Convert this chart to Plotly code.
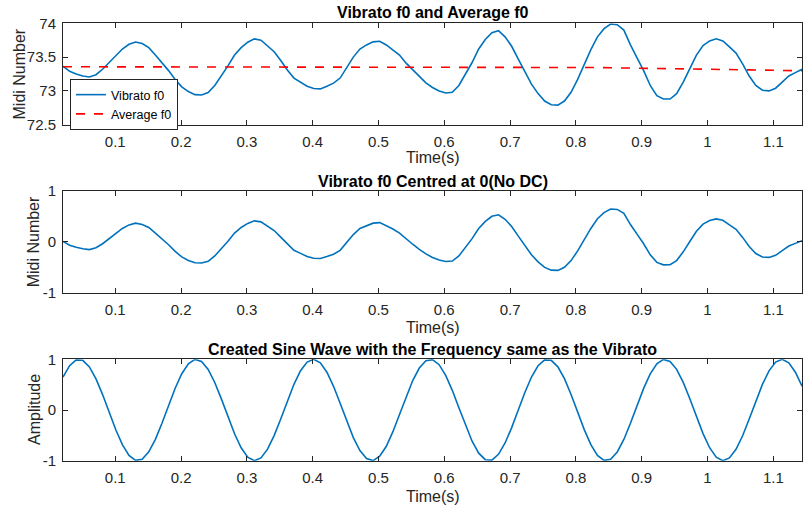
import numpy as np
import plotly.graph_objects as go

# ---------------- data ----------------
T_START, T_END, N_SAMPLES = 0.0206, 1.1436, 113
time_s = np.linspace(T_START, T_END, N_SAMPLES)

vibrato_f0 = [
    73.366, 73.29, 73.25, 73.22, 73.205, 73.24, 73.32, 73.42, 73.53, 73.62,
    73.69, 73.724, 73.70, 73.64, 73.53, 73.42, 73.30, 73.17, 73.06, 72.99,
    72.945, 72.94, 72.975, 73.08, 73.22, 73.37, 73.53, 73.64, 73.72, 73.77,
    73.75, 73.67, 73.58, 73.45, 73.31, 73.19, 73.13, 73.07, 73.035, 73.03,
    73.07, 73.115, 73.19, 73.34, 73.50, 73.62, 73.68, 73.725, 73.735, 73.68,
    73.61, 73.53, 73.41, 73.31, 73.21, 73.12, 73.05, 73.00, 72.97, 72.98,
    73.08, 73.25, 73.42, 73.62, 73.76, 73.86, 73.89, 73.80, 73.66, 73.47,
    73.28, 73.10, 72.96, 72.85, 72.795, 72.79, 72.85, 72.98, 73.17, 73.39,
    73.61, 73.80, 73.92, 73.99, 73.98, 73.90, 73.68, 73.49, 73.30, 73.08,
    72.93, 72.88, 72.88, 72.96, 73.13, 73.33, 73.53, 73.67, 73.74, 73.77,
    73.74, 73.65, 73.56, 73.40, 73.22, 73.08, 73.01, 73.00, 73.04, 73.13,
    73.22, 73.27, 73.32,
]

average_f0 = [73.357] * 70 + [
    73.356, 73.355, 73.354, 73.353, 73.352, 73.351, 73.350, 73.349, 73.348,
    73.347, 73.346, 73.345, 73.344, 73.343, 73.342, 73.341, 73.340, 73.339,
    73.338, 73.336, 73.334, 73.332, 73.330, 73.328, 73.326, 73.324, 73.322,
    73.321, 73.320, 73.318, 73.317, 73.315, 73.314, 73.312, 73.311, 73.309,
    73.308, 73.306, 73.305, 73.303, 73.302, 73.300, 73.298,
]

sine_wave = [
    0.651, 0.874, 0.988, 0.980, 0.850, 0.615, 0.304, -0.046, -0.389, -0.684,
    -0.894, -0.994, -0.970, -0.826, -0.580, -0.261, 0.089, 0.429, 0.716, 0.913,
    0.998, 0.959, 0.801, 0.543, 0.219, -0.133, -0.468, -0.746, -0.930, -1.000,
    -0.945, -0.773, -0.506, -0.176, 0.177, 0.507, 0.774, 0.946, 1.000, 0.930,
    0.745, 0.467, 0.132, -0.220, -0.544, -0.801, -0.959, -0.998, -0.913, -0.715,
    -0.428, -0.088, 0.262, 0.581, 0.827, 0.971, 0.994, 0.894, 0.683, 0.388,
    0.044, -0.305, -0.616, -0.851, -0.980, -0.988, -0.874, -0.651, -0.347, -0.001,
    0.346, 0.650, 0.873, 0.988, 0.980, 0.851, 0.617, 0.306, -0.043, -0.387,
    -0.684, -0.894, -0.994, -0.971, -0.827, -0.581, -0.263, 0.087, 0.427, 0.714,
    0.912, 0.998, 0.959, 0.802, 0.545, 0.221, -0.131, -0.466, -0.744, -0.930,
    -1.000, -0.946, -0.775, -0.508, -0.178, 0.175, 0.505, 0.773, 0.945, 1.000,
    0.931, 0.746, 0.469,
]

# centred vibrato = f0 minus its average
centred_f0 = (np.array(vibrato_f0) - np.array(average_f0)).tolist()

x_tick_vals = [0.1, 0.2, 0.3, 0.4, 0.5, 0.6, 0.7, 0.8, 0.9, 1.0, 1.1]
x_tick_text = ["0.1", "0.2", "0.3", "0.4", "0.5", "0.6", "0.7", "0.8", "0.9", "1", "1.1"]
y1_tick_vals = [72.5, 73, 73.5, 74]
y1_tick_text = ["72.5", "73", "73.5", "74"]
y23_tick_vals = [-1, 0, 1]
y23_tick_text = ["-1", "0", "1"]

titles = ["Vibrato f0 and Average f0",
          "Vibrato f0 Centred at 0(No DC)",
          "Created Sine Wave with the Frequency same as the Vibrato"]
y_titles = ["Midi Number", "Midi Number", "Amplitude"]
x_title = "Time(s)"

# ---------------- layout geometry ----------------
W, H = 803, 509
FONT = "Liberation Sans, Arial, Helvetica, sans-serif"
BLUE = "#0072BD"
AX = "#262626"

left_px, right_px = 63, 802
panels_px = [(23.3, 124.7), (191.0, 292.7), (359.3, 460.7)]  # top, bottom (pixels from top)
title_y_px = [12.5, 181.0, 349.0]
xlabel_y_px = [157.0, 327.5, 496.5]
ylabel_x_px = [18.5, 33.5, 34.0]

def py(p):
    return 1 - p / H

x_dom = [left_px / W, right_px / W]
cx = (left_px + right_px) / 2 / W

fig = go.Figure()

fig.add_trace(go.Scatter(x=time_s, y=vibrato_f0, mode="lines", name="Vibrato f0",
                         line=dict(color=BLUE, width=1.6), xaxis="x", yaxis="y"))
fig.add_trace(go.Scatter(x=time_s, y=average_f0, mode="lines", name="Average f0",
                         line=dict(color="#FF0000", width=1.6, dash="dash"), xaxis="x", yaxis="y"))
fig.add_trace(go.Scatter(x=time_s, y=centred_f0, mode="lines", showlegend=False,
                         line=dict(color=BLUE, width=1.6), xaxis="x2", yaxis="y2"))
fig.add_trace(go.Scatter(x=time_s, y=sine_wave, mode="lines", showlegend=False,
                         line=dict(color=BLUE, width=1.6), xaxis="x3", yaxis="y3"))

common_axis = dict(showline=True, linecolor=AX, linewidth=1, mirror="ticks",
                   ticks="inside", ticklen=5, tickcolor=AX, tickwidth=1,
                   showgrid=False, zeroline=False, ticklabelstandoff=3,
                   tickfont=dict(family=FONT, size=15, color=AX))

layout = dict(width=W, height=H, margin=dict(l=0, r=0, t=0, b=0, autoexpand=False),
              paper_bgcolor="white", plot_bgcolor="white",
              font=dict(family=FONT, color=AX),
              showlegend=True,
              legend=dict(x=70 / W, y=py(79), xanchor="left", yanchor="top",
                          bgcolor="white", bordercolor=AX, borderwidth=1,
                          font=dict(family=FONT, size=12.5, color="#000000"),
                          tracegroupgap=0, itemwidth=30))

y_ranges = [[72.5, 74], [-1, 1], [-1, 1]]
y_ticks = [(y1_tick_vals, y1_tick_text), (y23_tick_vals, y23_tick_text), (y23_tick_vals, y23_tick_text)]
annotations = []
for i, (top, bot) in enumerate(panels_px):
    sfx = "" if i == 0 else str(i + 1)
    layout["xaxis" + sfx] = dict(common_axis, domain=x_dom, range=[T_START, T_END],
                                 anchor="y" + sfx, tickvals=x_tick_vals, ticktext=x_tick_text)
    layout["yaxis" + sfx] = dict(common_axis, domain=[py(bot), py(top)], range=y_ranges[i],
                                 anchor="x" + sfx, tickvals=y_ticks[i][0], ticktext=y_ticks[i][1])
    annotations.append(dict(text="<b>" + titles[i] + "</b>", x=cx, y=py(title_y_px[i]),
                            xref="paper", yref="paper", xanchor="center", yanchor="middle",
                            showarrow=False, font=dict(family=FONT, size=16, color="#000000")))
    annotations.append(dict(text=x_title, x=cx, y=py(xlabel_y_px[i]), xref="paper", yref="paper",
                            xanchor="center", yanchor="middle", showarrow=False,
                            font=dict(family=FONT, size=16, color=AX)))
    annotations.append(dict(text=y_titles[i], x=ylabel_x_px[i] / W, y=py((top + bot) / 2),
                            xref="paper", yref="paper", xanchor="center", yanchor="middle",
                            textangle=-90, showarrow=False,
                            font=dict(family=FONT, size=16, color=AX)))
layout["annotations"] = annotations

fig.update_layout(**layout)
fig.write_html("out.html",
               config={"displayModeBar": False},
               post_script="document.body.style.margin='0';"
                           "document.body.style.overflow='hidden';")
